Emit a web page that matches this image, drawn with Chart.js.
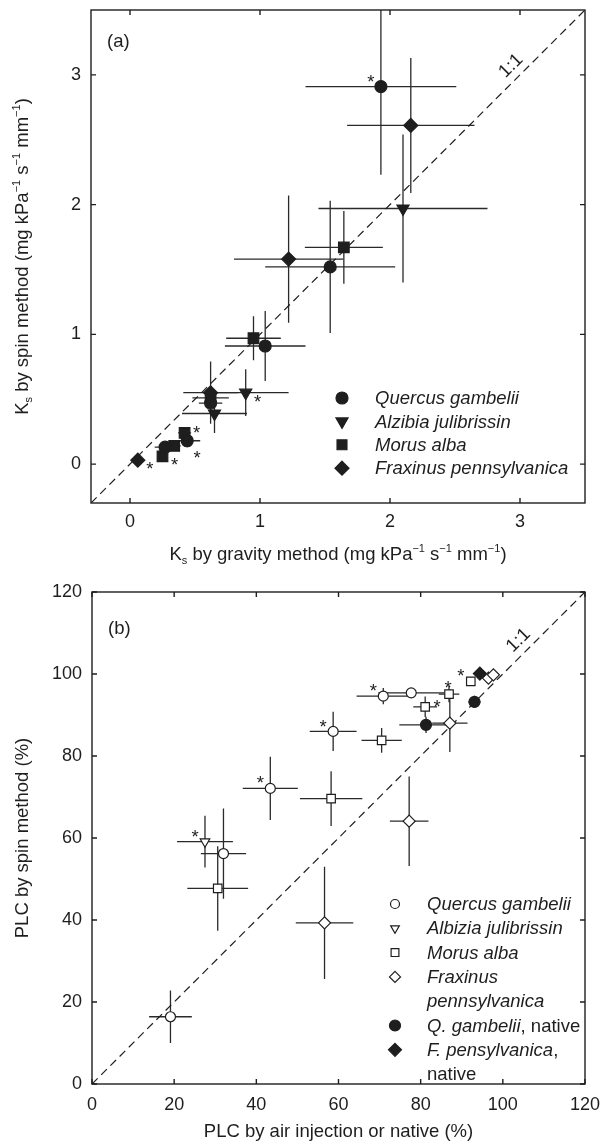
<!DOCTYPE html>
<html>
<head>
<meta charset="utf-8">
<script src="https://cdn.jsdelivr.net/npm/chart.js@4.4.0/dist/chart.umd.min.js"></script>
<style>
  body { margin: 0; background: #fff; }
  canvas { display: block; }
</style>
</head>
<body>
<canvas id="chartA" width="601" height="571"></canvas>
<canvas id="chartB" width="601" height="571"></canvas>
<script>
// ---- data, panel (a): Ks gravity (x) vs Ks spin (y); rows are [x, y, xErr, yErr]
const ticksA = [0, 1, 2, 3];
const rangeA = [-0.3, 3.5];
const quercusA = [[1.93, 2.91, 0.58, 0.68], [1.54, 1.52, 0.50, 0.51], [1.04, 0.91, 0.31, 0.27],
                  [0.62, 0.47, 0.09, 0.06], [0.44, 0.18, 0.10, 0.05], [0.27, 0.13, 0.08, 0.03]];
const quercusStarA = ['ul', '', '', '', 'lr', ''];
const albiziaA = [[2.10, 1.97, 0.65, 0.57], [0.89, 0.55, 0.33, 0.18], [0.65, 0.39, 0.25, 0.15]];
const albiziaStarA = ['', 'r', ''];
const morusA = [[1.645, 1.67, 0.30, 0.28], [0.95, 0.97, 0.21, 0.17], [0.62, 0.51, 0.14, 0.04],
                [0.42, 0.24, 0.05, 0.04], [0.34, 0.14, 0.05, 0.03], [0.25, 0.06, 0.03, 0.02]];
const morusStarA = ['', '', '', 'ur', '', 'r'];
const fraxinusA = [[2.16, 2.61, 0.49, 0.52], [1.22, 1.58, 0.42, 0.49], [0.62, 0.55, 0.21, 0.24], [0.06, 0.03, 0.03, 0.02]];
const fraxinusStarA = ['', '', '', 'r'];

// ---- data, panel (b): PLC air injection / native (x) vs PLC spin (y)
const ticksB = [0, 20, 40, 60, 80, 100, 120];
const rangeB = [0, 120];
const quercusB = [[19.1, 16.4, 5.2, 6.4], [32.0, 56.2, 5.5, 11.0], [43.4, 72.1, 6.7, 7.7],
                  [58.7, 86.0, 5.7, 4.8], [70.9, 94.6, 6.5, 2.0], [77.7, 95.4, 8.0, 1.0]];
const quercusStarB = ['', '', 'ul', 'ul', 'ul', ''];
const albiziaB = [[27.5, 59.1, 6.8, 6.3]];
const albiziaStarB = ['ul'];
const morusB = [[30.6, 47.7, 7.4, 10.3], [58.2, 69.6, 7.6, 6.7], [70.5, 83.8, 4.9, 3.0],
                [81.1, 92.0, 2.9, 2.5], [86.9, 95.1, 2.5, 2.0], [92.2, 98.2, 1.0, 1.0]];
const morusStarB = ['', '', '', 'ur', 'u', 'ul'];
const fraxinusB = [[56.6, 39.3, 7.0, 13.7], [77.2, 64.1, 4.7, 10.9], [87.1, 88.0, 4.3, 7.0],
                   [96.5, 99.0, 1.0, 1.0], [97.7, 99.8, 1.0, 1.0]];
const quercusNativeB = [[81.3, 87.6, 6.5, 2.0], [93.1, 93.2, 1.5, 1.5]];
const fraxinusNativeB = [[94.4, 100.1, 1.5, 1.0]];

const FONT = '"Liberation Sans", Arial, sans-serif';
const INK = '#1e1e1e';
const FS = 18.5;
const TICK_FS = 18;
const STAR_OFFSET = { ul: [-10, -10], u: [-1, -11], ur: [12, -5], r: [12, 4], lr: [10, 12] };

function drawRich(ctx, segs, cx, cy, size, angle) {
  ctx.save();
  ctx.translate(cx, cy);
  ctx.rotate(angle || 0);
  const fontFor = k => (k === 'sub' || k === 'sup' ? Math.round(size * 0.62) : size) + 'px ' + FONT;
  let w = 0;
  segs.forEach(([t, k]) => { ctx.font = fontFor(k); w += ctx.measureText(t).width; });
  let x = -w / 2;
  ctx.fillStyle = INK;
  ctx.textAlign = 'left';
  ctx.textBaseline = 'alphabetic';
  segs.forEach(([t, k]) => {
    ctx.font = fontFor(k);
    const dy = k === 'sub' ? size * 0.22 : k === 'sup' ? -size * 0.42 : 0;
    ctx.fillText(t, x, dy);
    x += ctx.measureText(t).width;
  });
  ctx.restore();
}

function marker(ctx, style, x, y, r, filled) {
  ctx.beginPath();
  if (style === 'circle') {
    ctx.arc(x, y, r, 0, Math.PI * 2);
  } else if (style === 'rect') {
    const s = r * Math.SQRT1_2;
    ctx.rect(x - s, y - s, 2 * s, 2 * s);
  } else if (style === 'rectRot') {
    ctx.moveTo(x, y - r); ctx.lineTo(x + r, y); ctx.lineTo(x, y + r); ctx.lineTo(x - r, y); ctx.closePath();
  } else {
    ctx.moveTo(x, y + r); ctx.lineTo(x + 0.866 * r, y - 0.5 * r); ctx.lineTo(x - 0.866 * r, y - 0.5 * r); ctx.closePath();
  }
  ctx.fillStyle = filled ? INK : '#fff';
  ctx.fill();
  ctx.lineWidth = 1.2;
  ctx.strokeStyle = INK;
  ctx.stroke();
}

function series(rows, stars, style, radius, filled) {
  return {
    data: rows.map((r, i) => ({ x: r[0], y: r[1], xErr: r[2], yErr: r[3], star: stars ? stars[i] : '' })),
    pointStyle: style === 'triangleDown' ? 'triangle' : style,
    pointRotation: style === 'triangleDown' ? 180 : 0,
    pointRadius: radius,
    pointHoverRadius: radius,
    backgroundColor: filled ? INK : '#fff',
    borderColor: INK,
    borderWidth: 1.2,
    showLine: false
  };
}

function oneToOne(range) {
  return {
    data: [{ x: range[0], y: range[0] }, { x: range[1], y: range[1] }],
    showLine: true, pointRadius: 0, borderColor: INK, borderWidth: 1.2, borderDash: [8, 5]
  };
}

function axis(range, ticks, pos, size, pad) {
  return {
    type: 'linear', position: pos, min: range[0], max: range[1],
    grid: { display: false, drawTicks: false },
    border: { display: false },
    ticks: { font: { family: FONT, size: TICK_FS }, color: INK, padding: pad },
    afterBuildTicks: s => { s.ticks = ticks.map(v => ({ value: v })); },
    afterFit: s => {
      if (pos === 'left') s.width = size; else s.height = size;
      s.paddingTop = s.paddingBottom = s.paddingLeft = s.paddingRight = 0;
    }
  };
}

// error bars drawn under the markers
const errorBars = {
  id: 'errorBars',
  beforeDatasetsDraw(chart) {
    const { ctx, chartArea: a, scales: { x, y } } = chart;
    ctx.save();
    ctx.beginPath(); ctx.rect(a.left, a.top, a.width, a.height); ctx.clip();
    ctx.strokeStyle = '#2a2a2a';
    ctx.lineWidth = 1.3;
    chart.data.datasets.forEach(ds => ds.data.forEach(p => {
      if (!p.xErr && !p.yErr) return;
      const px = x.getPixelForValue(p.x), py = y.getPixelForValue(p.y);
      ctx.beginPath();
      ctx.moveTo(x.getPixelForValue(p.x - p.xErr), py); ctx.lineTo(x.getPixelForValue(p.x + p.xErr), py);
      ctx.moveTo(px, y.getPixelForValue(p.y - p.yErr)); ctx.lineTo(px, y.getPixelForValue(p.y + p.yErr));
      ctx.stroke();
    }));
    ctx.restore();
  }
};

// frame, inward ticks, asterisks, 1:1 label, panel letter, legend, axis titles
const decor = {
  id: 'decor',
  afterDraw(chart, args, o) {
    const { ctx, chartArea: a, scales: { x, y } } = chart;
    ctx.save();
    ctx.strokeStyle = INK;
    ctx.lineWidth = 1.4;
    ctx.strokeRect(a.left, a.top, a.width, a.height);
    ctx.beginPath();
    x.ticks.forEach(t => {
      const px = x.getPixelForValue(t.value);
      ctx.moveTo(px, a.bottom); ctx.lineTo(px, a.bottom - 5);
      ctx.moveTo(px, a.top); ctx.lineTo(px, a.top + 5);
    });
    y.ticks.forEach(t => {
      const py = y.getPixelForValue(t.value);
      ctx.moveTo(a.left, py); ctx.lineTo(a.left + 5, py);
      ctx.moveTo(a.right, py); ctx.lineTo(a.right - 5, py);
    });
    ctx.stroke();

    // significance asterisks
    ctx.fillStyle = INK;
    ctx.font = FS + 'px ' + FONT;
    ctx.textAlign = 'center';
    ctx.textBaseline = 'alphabetic';
    chart.data.datasets.forEach(ds => ds.data.forEach(p => {
      if (!p.star) return;
      const [dx, dy] = STAR_OFFSET[p.star];
      ctx.fillText('*', x.getPixelForValue(p.x) + dx, y.getPixelForValue(p.y) + dy + FS * 0.6);
    }));

    // 1:1 label
    const lx = x.getPixelForValue(o.diag) - 9, ly = y.getPixelForValue(o.diag) - 9;
    ctx.save();
    ctx.translate(lx, ly);
    ctx.rotate(-Math.PI / 4);
    ctx.textBaseline = 'middle';
    ctx.fillText('1:1', 0, 0);
    ctx.restore();

    // panel letter
    ctx.textAlign = 'left';
    ctx.fillText(o.letter, a.left + 16, a.top + o.letterDy);

    // legend
    o.legend.forEach((e, i) => {
      const ry = a.bottom - o.legendBottom + i * o.legendStep;
      if (e.style) marker(ctx, e.style, a.right - o.legendMarkerX, ry, e.r, e.filled);
      let tx = a.right - o.legendTextX;
      ctx.textBaseline = 'middle';
      ctx.fillStyle = INK;
      e.text.forEach(([t, it]) => {
        ctx.font = (it ? 'italic ' : '') + FS + 'px ' + FONT;
        ctx.fillText(t, tx, ry + 1);
        tx += ctx.measureText(t).width;
      });
    });

    // axis titles
    drawRich(ctx, o.xTitle, (a.left + a.right) / 2, a.bottom + o.xTitleDy, FS);
    drawRich(ctx, o.yTitle, 28, (a.top + a.bottom) / 2, FS, -Math.PI / 2);
    ctx.restore();
  }
};

const unitSegs = [[' (mg kPa', ''], ['\u22121', 'sup'], [' s', ''], ['\u22121', 'sup'], [' mm', ''], ['\u22121', 'sup'], [')', '']];

new Chart(document.getElementById('chartA'), {
  type: 'scatter',
  data: {
    datasets: [
      series(quercusA, quercusStarA, 'circle', 6, true),
      series(albiziaA, albiziaStarA, 'triangleDown', 7, true),
      series(morusA, morusStarA, 'rect', 7.5, true),
      series(fraxinusA, fraxinusStarA, 'rectRot', 7, true),
      oneToOne(rangeA)
    ]
  },
  options: {
    responsive: false,
    animation: false,
    layout: { padding: { top: 10, right: 16, left: 0, bottom: 0 } },
    scales: { x: axis(rangeA, ticksA, 'bottom', 68, 8), y: axis(rangeA, ticksA, 'left', 91, 10) },
    plugins: {
      legend: { display: false },
      tooltip: { enabled: false },
      decor: {
        diag: 3.0, letter: '(a)', letterDy: 37,
        legendBottom: 105, legendStep: 23.4, legendMarkerX: 243, legendTextX: 210,
        legend: [
          { style: 'circle', r: 6, filled: true, text: [['Quercus gambelii', true]] },
          { style: 'triangleDown', r: 7, filled: true, text: [['Alzibia julibrissin', true]] },
          { style: 'rect', r: 7, filled: true, text: [['Morus alba', true]] },
          { style: 'rectRot', r: 7, filled: true, text: [['Fraxinus pennsylvanica', true]] }
        ],
        xTitle: [['K', ''], ['s', 'sub'], [' by gravity method', '']].concat(unitSegs),
        xTitleDy: 57,
        yTitle: [['K', ''], ['s', 'sub'], [' by spin method', '']].concat(unitSegs)
      }
    }
  },
  plugins: [errorBars, decor]
});

new Chart(document.getElementById('chartB'), {
  type: 'scatter',
  data: {
    datasets: [
      series(fraxinusNativeB, null, 'rectRot', 6.5, true),
      series(quercusNativeB, null, 'circle', 5.5, true),
      series(fraxinusB, null, 'rectRot', 6, false),
      series(morusB, morusStarB, 'rect', 6, false),
      series(albiziaB, albiziaStarB, 'triangleDown', 5.5, false),
      series(quercusB, quercusStarB, 'circle', 5, false),
      oneToOne(rangeB)
    ]
  },
  options: {
    responsive: false,
    animation: false,
    layout: { padding: { top: 21, right: 16, left: 0, bottom: 0 } },
    scales: { x: axis(rangeB, ticksB, 'bottom', 58, 10), y: axis(rangeB, ticksB, 'left', 92, 10) },
    plugins: {
      legend: { display: false },
      tooltip: { enabled: false },
      decor: {
        diag: 106, letter: '(b)', letterDy: 42,
        legendBottom: 180, legendStep: 24.3, legendMarkerX: 190, legendTextX: 158,
        legend: [
          { style: 'circle', r: 4.5, filled: false, text: [['Quercus gambelii', true]] },
          { style: 'triangleDown', r: 5, filled: false, text: [['Albizia julibrissin', true]] },
          { style: 'rect', r: 5.5, filled: false, text: [['Morus alba', true]] },
          { style: 'rectRot', r: 5.5, filled: false, text: [['Fraxinus', true]] },
          { text: [['pennsylvanica', true]] },
          { style: 'circle', r: 5.5, filled: true, text: [['Q. gambelii', true], [', native', false]] },
          { style: 'rectRot', r: 6.5, filled: true, text: [['F. pensylvanica', true], [',', false]] },
          { text: [['native', false]] }
        ],
        xTitle: [['PLC by air injection or native (%)', '']],
        xTitleDy: 53,
        yTitle: [['PLC by spin method (%)', '']]
      }
    }
  },
  plugins: [errorBars, decor]
});
</script>
</body>
</html>
